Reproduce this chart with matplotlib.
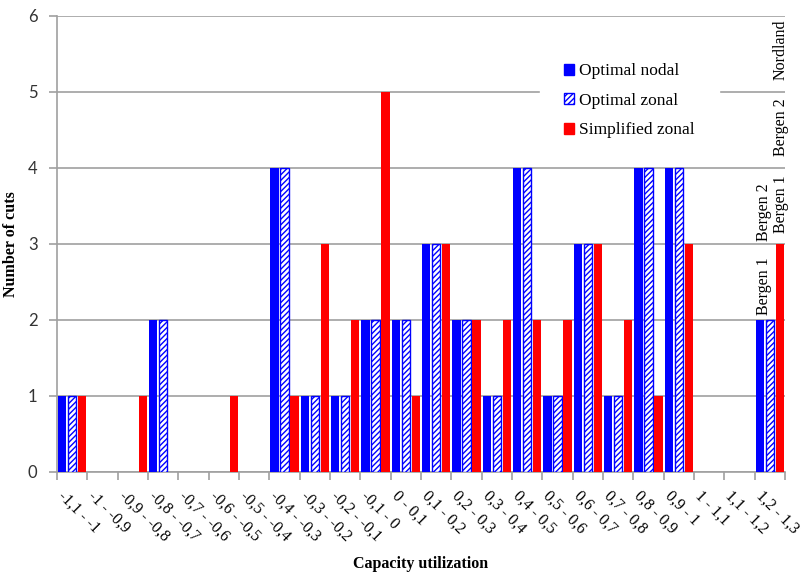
import matplotlib
matplotlib.use("Agg")
import matplotlib.pyplot as plt
from matplotlib.patches import Patch
from matplotlib.transforms import ScaledTranslation
import numpy as np

# Capacity-utilization bins
categories = ["-1,1 - -1", "-1 - -0,9", "-0,9 - -0,8", "-0,8 - -0,7", "-0,7 - -0,6",
              "-0,6 - -0,5", "-0,5 - -0,4", "-0,4 - -0,3", "-0,3 - -0,2", "-0,2 - -0,1",
              "-0,1 - 0", "0 - 0,1", "0,1 - 0,2", "0,2 - 0,3", "0,3 - 0,4", "0,4 - 0,5",
              "0,5 - 0,6", "0,6 - 0,7", "0,7 - 0,8", "0,8 - 0,9", "0,9 - 1", "1 - 1,1",
              "1,1 - 1,2", "1,2 - 1,3"]

optimal_nodal = [1, 0, 0, 2, 0, 0, 0, 4, 1, 1, 2, 2, 3, 2, 1, 4, 1, 3, 1, 4, 4, 0, 0, 2]
optimal_zonal = [1, 0, 0, 2, 0, 0, 0, 4, 1, 1, 2, 2, 3, 2, 1, 4, 1, 3, 1, 4, 4, 0, 0, 2]
simplified_zonal = [1, 0, 1, 0, 0, 1, 0, 1, 3, 2, 5, 1, 3, 2, 2, 2, 2, 3, 2, 1, 3, 0, 0, 3]

series_names = ["Optimal nodal", "Optimal zonal", "Simplified zonal"]

# Cuts named in the last bin
nodal_cut_names = ["Bergen 1", "Bergen 2"]
simplified_cut_names = ["Bergen 1", "Bergen 2", "Nordland"]

plt.rcParams["hatch.linewidth"] = 1.0
serif = ["Liberation Serif", "DejaVu Serif"]

fig = plt.figure(figsize=(8.01, 5.73), dpi=100)
ax = fig.add_axes([57 / 801, 1 - 472 / 573, (785 - 57) / 801, (472 - 16) / 573])

n = len(categories)
x = np.arange(n) + 0.5
w = 0.27
blue = "#0000ff"
red = "#ff0000"


def nonzero(offset, values):
    """Bin positions and heights for the bins that hold at least one cut."""
    vals = np.asarray(values)
    keep = vals > 0
    return x[keep] + offset, vals[keep]


ax.bar(*nonzero(-0.33, optimal_nodal), w, color=blue, zorder=3)
ax.bar(*nonzero(0.0, optimal_zonal), w, facecolor="white", edgecolor=blue,
       hatch="//////", linewidth=1.0, zorder=3)
ax.bar(*nonzero(0.33, simplified_zonal), w, color=red, zorder=3)

ax.set_xlim(0, n)
ax.set_ylim(0, 6)

grid_c = "#a0a0a0"
ax.set_yticks(range(7))
ax.yaxis.grid(True, color=grid_c, linewidth=1.2, zorder=0)
ax.set_axisbelow(True)
for s in ["top", "right"]:
    ax.spines[s].set_visible(False)
for s in ["left", "bottom"]:
    ax.spines[s].set_color(grid_c)
    ax.spines[s].set_linewidth(1.2)

ax.tick_params(axis="y", length=6, width=1.2, color=grid_c, labelsize=12,
               labelcolor="#333333", pad=8)
for lab in ax.get_yticklabels():
    lab.set_family(["Lato", "DejaVu Sans"])

# Major ticks at bin boundaries, labels at bin centres
ax.set_xticks(np.arange(n + 1))
ax.set_xticklabels([])
ax.tick_params(axis="x", which="major", length=6, width=1.2, color=grid_c)
ax.set_xticks(x, minor=True)
ax.set_xticklabels(categories, minor=True, rotation=-45, ha="left", va="top",
                   rotation_mode="anchor", fontsize=11.5, family=serif)
ax.tick_params(axis="x", which="minor", length=0, pad=0)
offset = ScaledTranslation(-6 / 100, -16 / 100, fig.dpi_scale_trans)
for lab in ax.get_xticklabels(minor=True):
    lab.set_transform(lab.get_transform() + offset)

ax.set_xlabel("Capacity utilization", fontsize=11.5, fontweight="bold",
              family=serif, labelpad=0)
ax.xaxis.set_label_coords(0.5, -0.185)
ax.set_ylabel("Number of cuts", fontsize=11.5, fontweight="bold", family=serif)
ax.yaxis.set_label_coords(-0.052, 0.5)

# Names of the cuts in the last bin
last = n - 1
for i, name in enumerate(nodal_cut_names):
    ax.text(x[last] - 0.2, optimal_nodal[last] + 0.45 + i * 0.97, name, rotation=90,
            ha="center", va="center", fontsize=11.5, family=serif, zorder=4,
            bbox=dict(facecolor="white", edgecolor="none", pad=1.0))
for i, name in enumerate(simplified_cut_names):
    ax.text(x[last] + 0.36, simplified_zonal[last] + 0.53 + i * 1.01, name, rotation=90,
            ha="center", va="center", fontsize=11.5, family=serif, zorder=4,
            bbox=dict(facecolor="white", edgecolor="none", pad=1.0))

handles = [Patch(facecolor=blue, edgecolor=blue),
           Patch(facecolor="white", edgecolor=blue, hatch="//////"),
           Patch(facecolor=red, edgecolor=red)]
leg = ax.legend(handles, series_names, loc="upper left",
                bbox_to_anchor=((540 - 57) / 728, (472 - 39) / 456),
                frameon=True, fancybox=False, framealpha=1, edgecolor="white",
                handlelength=0.55, handleheight=0.6, handletextpad=0.3,
                labelspacing=0.78, borderpad=1.4, borderaxespad=0,
                prop={"family": serif, "size": 12.5})
leg.set_zorder(5)

fig.savefig("out.png", dpi=100)
